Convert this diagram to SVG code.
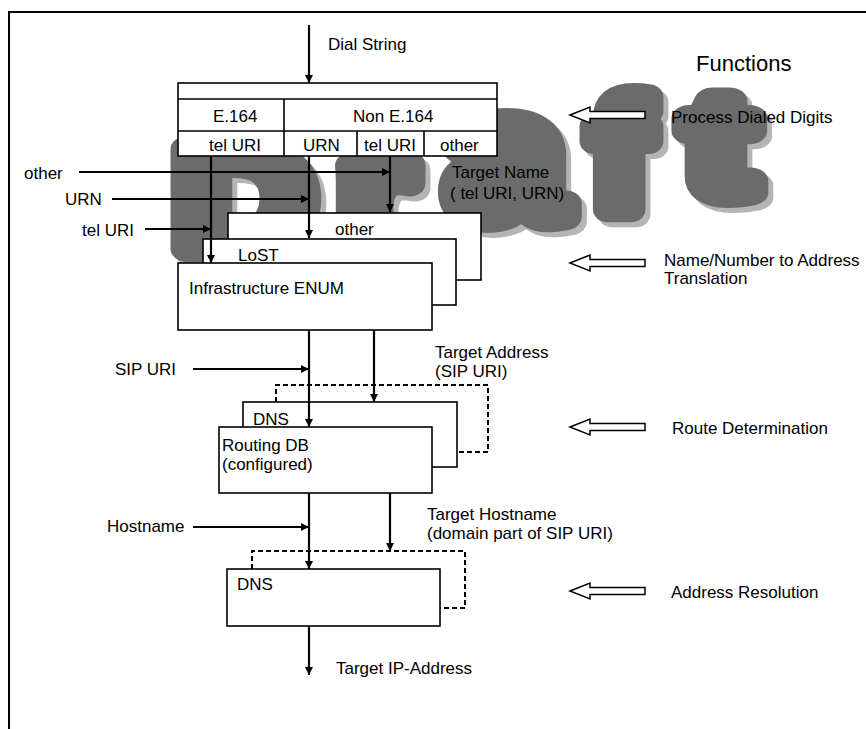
<svg xmlns="http://www.w3.org/2000/svg" width="866" height="729" viewBox="0 0 866 729">
<defs>
<style>
.t{font-family:"Liberation Sans",Arial,sans-serif;font-size:17px;fill:#000}
.box{fill:#fff;stroke:#000;stroke-width:1.6}
.ln{stroke:#000;stroke-width:2.2;fill:none}
.dash{stroke:#000;stroke-width:2;stroke-dasharray:5 3;fill:none}
.harrow{fill:#fff;stroke:#000;stroke-width:1.5}
.wm{font-family:"Liberation Sans",Arial,sans-serif;font-weight:bold;stroke-width:26;stroke-linejoin:round}
.wmf{fill:#6b6b6b;stroke:#6b6b6b}
.wms{fill:#b4b4b4;stroke:#b4b4b4}
</style>
<marker id="ah" viewBox="0 0 10 10" refX="10" refY="5" markerWidth="8" markerHeight="8" markerUnits="userSpaceOnUse" orient="auto"><path d="M0,0 L10,5 L0,10 z" fill="#000"/></marker>
</defs>
<rect width="866" height="729" fill="#fff"/>
<!-- frame -->
<path d="M9,729 V12 H866" fill="none" stroke="#000" stroke-width="2"/>

<!-- watermark -->
<g id="watermark">
<g class="wm wms" transform="translate(5,5)">
<text transform="translate(175,249) scale(1.32,1)" font-size="144">D</text>
<text transform="translate(338,250) scale(1.2,1)" font-size="160">r</text>
<text transform="translate(447,218) scale(1.18,1)" font-size="180">a</text>
<text transform="translate(591,209) scale(1.11,1)" font-size="156">f</text>
<text transform="translate(687,194) scale(1.38,1)" font-size="143">t</text>
</g>
<g class="wm wmf">
<text transform="translate(175,249) scale(1.32,1)" font-size="144">D</text>
<text transform="translate(338,250) scale(1.2,1)" font-size="160">r</text>
<text transform="translate(447,218) scale(1.18,1)" font-size="180">a</text>
<text transform="translate(591,209) scale(1.11,1)" font-size="156">f</text>
<text transform="translate(687,194) scale(1.38,1)" font-size="143">t</text>
</g>
</g>

<!-- top classification table -->
<g id="dialtable">
<rect class="box" x="178" y="83" width="319" height="73"/>
<path d="M178,99 H497 M178,131 H497 M284,99 V156 M357,131 V156 M424,131 V156" stroke="#000" stroke-width="1.6" fill="none"/>
<text class="t" x="213" y="122">E.164</text>
<text class="t" x="353" y="122">Non E.164</text>
<text class="t" x="209" y="151">tel URI</text>
<text class="t" x="303" y="151">URN</text>
<text class="t" x="364" y="151">tel URI</text>
<text class="t" x="440" y="151">other</text>
</g>

<g id="other">
<rect class="box" x="228" y="213" width="253" height="67"/>
<text class="t" x="335" y="235">other</text>
</g>
<g id="lost">
<rect class="box" x="203" y="239" width="253" height="66"/>
<text class="t" x="238" y="261">LoST</text>
</g>
<g id="enum">
<rect class="box" x="178" y="263" width="254" height="67"/>
<text class="t" x="189" y="294">Infrastructure ENUM</text>
</g>
<g id="dns1">
<rect class="box" x="243" y="402" width="214" height="65"/>
<text class="t" x="253" y="425">DNS</text>
</g>
<g id="routingdb">
<rect class="box" x="219" y="427" width="213" height="66"/>
<text class="t" x="222" y="451">Routing DB</text>
<text class="t" x="222" y="470">(configured)</text>
</g>
<g id="dns2">
<rect class="box" x="227" y="569" width="213" height="57"/>
<text class="t" x="237" y="590">DNS</text>
</g>

<!-- connectors -->
<g id="connectors">
<line class="ln" x1="309" y1="25" x2="309" y2="83" marker-end="url(#ah)"/>
<line class="ln" x1="211" y1="156" x2="211" y2="263" marker-end="url(#ah)"/>
<line class="ln" x1="309" y1="156" x2="309" y2="238" marker-end="url(#ah)"/>
<line class="ln" x1="390" y1="156" x2="390" y2="212" marker-end="url(#ah)"/>
<line class="ln" x1="79" y1="172" x2="390" y2="172" marker-end="url(#ah)"/>
<line class="ln" x1="112" y1="199" x2="309" y2="199" marker-end="url(#ah)"/>
<line class="ln" x1="145" y1="229" x2="211" y2="229" marker-end="url(#ah)"/>
<line class="ln" x1="309" y1="330" x2="309" y2="427" marker-end="url(#ah)"/>
<line class="ln" x1="374" y1="330" x2="374" y2="402" marker-end="url(#ah)"/>
<line class="ln" x1="193" y1="369" x2="309" y2="369" marker-end="url(#ah)"/>
<path class="dash" d="M276,402 V385 H488 V452 H458"/>
<line class="ln" x1="309" y1="493" x2="309" y2="569" marker-end="url(#ah)"/>
<line class="ln" x1="390" y1="493" x2="390" y2="551" marker-end="url(#ah)"/>
<line class="ln" x1="193" y1="527" x2="309" y2="527" marker-end="url(#ah)"/>
<path class="dash" d="M252,569 V551 H465 V608 H440"/>
<line class="ln" x1="309" y1="626" x2="309" y2="675" marker-end="url(#ah)"/>
</g>

<!-- connector labels -->
<g id="labels">
<text class="t" x="328" y="50">Dial String</text>
<text class="t" x="24" y="179">other</text>
<text class="t" x="65" y="205">URN</text>
<text class="t" x="82" y="236">tel URI</text>
<text class="t" x="452" y="178">Target Name</text>
<text class="t" x="450" y="199">( tel URI, URN)</text>
<text class="t" x="115" y="375">SIP URI</text>
<text class="t" x="435" y="358">Target Address</text>
<text class="t" x="435" y="377">(SIP URI)</text>
<text class="t" x="107" y="532">Hostname</text>
<text class="t" x="427" y="520">Target Hostname</text>
<text class="t" x="427" y="539">(domain part of SIP URI)</text>
<text class="t" x="336" y="674">Target IP-Address</text>
</g>

<!-- functions column -->
<g id="functions">
<text class="t" x="696" y="71" style="font-size:22px">Functions</text>
<path class="harrow" d="M570,115 L590,107 V111.5 H645 V118.5 H590 V123 Z"/>
<text class="t" x="671" y="123">Process Dialed Digits</text>
<path class="harrow" d="M570,263 L590,255 V259.5 H645 V266.5 H590 V271 Z"/>
<text class="t" x="664" y="266">Name/Number to Address</text>
<text class="t" x="664" y="284">Translation</text>
<path class="harrow" d="M570,427 L590,419 V423.5 H645 V430.5 H590 V435 Z"/>
<text class="t" x="672" y="434">Route Determination</text>
<path class="harrow" d="M570,591 L590,583 V587.5 H645 V594.5 H590 V599 Z"/>
<text class="t" x="671" y="598">Address Resolution</text>
</g>
</svg>
